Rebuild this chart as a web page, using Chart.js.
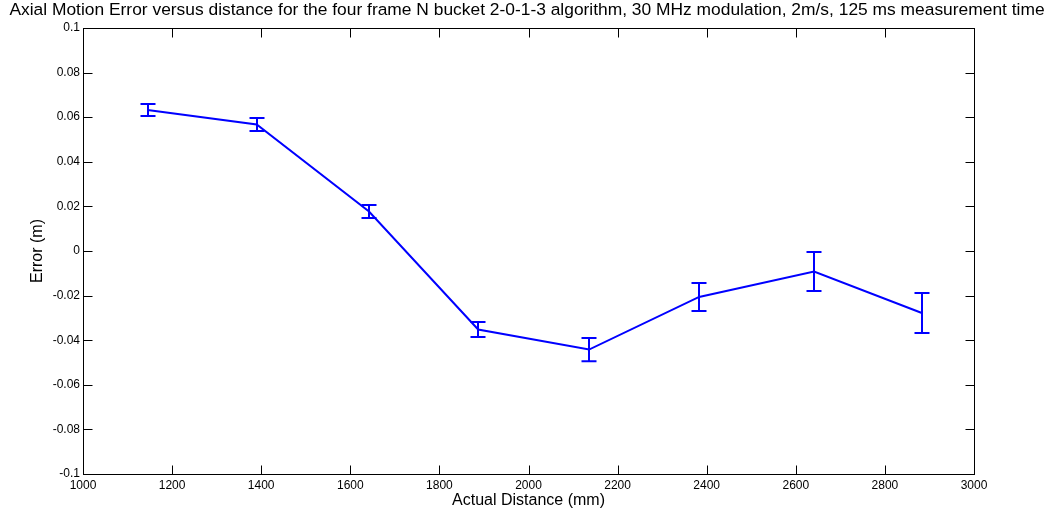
<!DOCTYPE html>
<html>
<head>
<meta charset="utf-8">
<script src="https://cdn.jsdelivr.net/npm/chart.js@4"></script>
<style>
  html, body { margin: 0; padding: 0; background: #fff; }
  #wrap { width: 1054px; height: 512px; position: relative; }
</style>
</head>
<body>
<div id="wrap"><canvas id="c" width="1054" height="512"></canvas></div>
<script>
const titleText = "Axial Motion Error versus distance for the four frame N bucket 2-0-1-3 algorithm, 30 MHz modulation, 2m/s, 125 ms measurement time";
const xTitle = "Actual Distance (mm)";
const yTitle = "Error (m)";
const distances = [1145, 1390, 1642, 1887, 2136, 2383, 2641, 2883];
const errors = [0.0632, 0.0567, 0.0177, -0.0352, -0.0442, -0.0206, -0.0092, -0.0278];
const errorBars = [0.0027, 0.0029, 0.0029, 0.0034, 0.0052, 0.0063, 0.0087, 0.0090];
const xTicks = [1000, 1200, 1400, 1600, 1800, 2000, 2200, 2400, 2600, 2800, 3000];
const yTicks = [-0.1, -0.08, -0.06, -0.04, -0.02, 0, 0.02, 0.04, 0.06, 0.08, 0.1];

const FONT = "'Liberation Sans', Arial, Helvetica, sans-serif";
const BLUE = '#0000ff';

const boxPlugin = {
  id: 'boxAndErrors',
  afterDatasetsDraw(chart) {
    const ctx = chart.ctx;
    const xs = chart.scales.x, ys = chart.scales.y;
    const a = chart.chartArea;
    ctx.save();
    // error bars
    ctx.strokeStyle = BLUE;
    ctx.lineWidth = 2;
    const cap = 7.5;
    distances.forEach((d, i) => {
      const px = Math.round(xs.getPixelForValue(d));
      const top = ys.getPixelForValue(errors[i] + errorBars[i]);
      const bot = ys.getPixelForValue(errors[i] - errorBars[i]);
      ctx.beginPath();
      ctx.moveTo(px, top); ctx.lineTo(px, bot);
      ctx.moveTo(px - cap, top); ctx.lineTo(px + cap, top);
      ctx.moveTo(px - cap, bot); ctx.lineTo(px + cap, bot);
      ctx.stroke();
    });
    // box
    ctx.strokeStyle = '#000';
    ctx.lineWidth = 1;
    const L = Math.round(a.left) + 0.5, R = Math.round(a.right) + 0.5;
    const T = Math.round(a.top) + 0.5, B = Math.round(a.bottom) + 0.5;
    ctx.strokeRect(L, T, R - L, B - T);
    // inward ticks
    const tl = 9;
    ctx.beginPath();
    xTicks.forEach(v => {
      const px = Math.round(xs.getPixelForValue(v)) + 0.5;
      ctx.moveTo(px, B); ctx.lineTo(px, B - tl);
      ctx.moveTo(px, T); ctx.lineTo(px, T + tl);
    });
    yTicks.forEach(v => {
      const py = Math.round(ys.getPixelForValue(v)) + 0.5;
      ctx.moveTo(L, py); ctx.lineTo(L + tl, py);
      ctx.moveTo(R, py); ctx.lineTo(R - tl, py);
    });
    ctx.stroke();
    ctx.restore();
  }
};

new Chart(document.getElementById('c'), {
  type: 'line',
  data: {
    datasets: [{
      data: distances.map((d, i) => ({ x: d, y: errors[i] })),
      borderColor: BLUE,
      borderWidth: 2,
      pointRadius: 0,
      tension: 0,
      fill: false
    }]
  },
  plugins: [boxPlugin],
  options: {
    responsive: false,
    animation: false,
    devicePixelRatio: 1,
    layout: { padding: 0 },
    plugins: {
      legend: { display: false },
      tooltip: { enabled: false },
      title: {
        display: true,
        text: titleText,
        color: '#000',
        font: { family: FONT, size: 17.4, weight: 'normal', lineHeight: 1.2 },
        padding: { top: 0, bottom: 7.1 }
      }
    },
    scales: {
      x: {
        type: 'linear',
        min: 1000, max: 3000,
        afterFit(scale) { scale.height = 38; },
        afterBuildTicks(scale) { scale.ticks = xTicks.map(v => ({ value: v })); },
        grid: { display: false, drawTicks: false },
        border: { display: false },
        ticks: {
          color: '#000',
          font: { family: FONT, size: 12 },
          padding: 4,
          maxRotation: 0,
          autoSkip: false,
          callback: v => String(v)
        },
        title: {
          display: true,
          text: xTitle,
          color: '#000',
          font: { family: FONT, size: 16, lineHeight: 1.2 },
          padding: { top: 0, bottom: 2 }
        }
      },
      y: {
        type: 'linear',
        min: -0.1, max: 0.1,
        afterFit(scale) { scale.width = 83; },
        afterBuildTicks(scale) { scale.ticks = yTicks.map(v => ({ value: v })); },
        grid: { display: false, drawTicks: false },
        border: { display: false },
        ticks: {
          color: '#000',
          font: { family: FONT, size: 12 },
          padding: 3,
          autoSkip: false,
          callback: v => String(Number(v.toFixed(2)))
        },
        title: {
          display: true,
          text: yTitle,
          color: '#000',
          font: { family: FONT, size: 16, lineHeight: 1.2 },
          padding: { top: 27.5, bottom: 0 }
        }
      },
      yRight: {
        type: 'linear',
        position: 'right',
        display: true,
        min: 0, max: 1,
        afterFit(scale) { scale.width = 80; },
        grid: { display: false, drawTicks: false },
        border: { display: false },
        ticks: { display: false }
      }
    }
  }
});
</script>
</body>
</html>
